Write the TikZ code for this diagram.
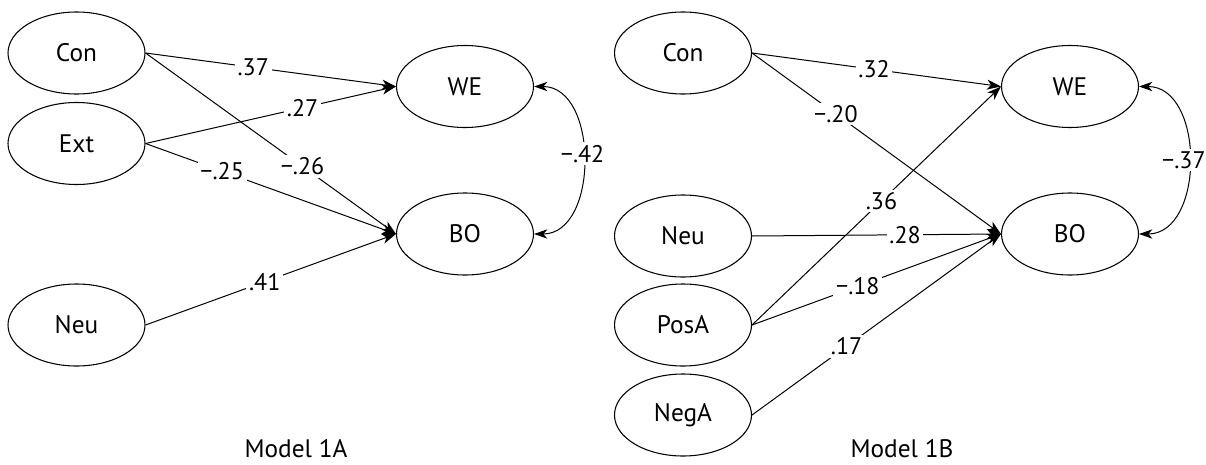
\documentclass[tikz,border=0pt]{standalone}
\usepackage{fontspec}
\setmainfont{PT Sans}
\usetikzlibrary{arrows.meta,shapes.geometric}
\begin{document}
\begin{tikzpicture}[x=0.75pt,y=-0.75pt,
  var/.style={draw,ellipse,line width=0.8pt,minimum width=102.75pt,minimum height=61.5pt,inner sep=0pt,font=\fontsize{19}{21}\selectfont},
  regarrow/.style={line width=0.75pt,-{Stealth[length=10.5pt,width=7.5pt,inset=3pt]}},
  covarrow/.style={line width=0.75pt,{Stealth[length=10pt,width=7pt,inset=3pt]}-{Stealth[length=10pt,width=7pt,inset=3pt]}},
  lbl/.style={fill=white,inner sep=2pt,font=\fontsize{18}{20}\selectfont},
  modelcap/.style={anchor=base,inner sep=0pt,font=\fontsize{19}{21}\selectfont}]
\useasboundingbox (0,0) rectangle (1206,464);
% Model 1A
\node[var] (con) at (76.5,53) {Con};
\node[var] (ext) at (76.5,143.5) {Ext};
\node[var] (neu) at (76.5,325) {Neu};
\node[var] (we) at (465,86.5) {WE};
\node[var] (bo) at (465,234) {BO};
\draw[regarrow] (con.east) -- (bo.west) node[lbl,pos=0.627] {−.26};
\draw[regarrow] (ext.east) -- (we.west) node[lbl,pos=0.627] {.27};
\draw[regarrow] (con.east) -- (we.west) node[lbl,pos=0.43] {.37};
\draw[regarrow] (ext.east) -- (bo.west) node[lbl,pos=0.306] {−.25};
\draw[regarrow] (neu.east) -- (bo.west) node[lbl,pos=0.476] {.41};
\draw[covarrow] (we.east) .. controls +(65,0) and +(65,0) .. (bo.east) node[lbl,pos=0.47,inner xsep=0.5pt] {−.42};
\node[modelcap] (m1a) at (296,457) {Model 1A};
% Model 1B
\node[var] (conb) at (683,53) {Con};
\node[var] (neub) at (683,236) {Neu};
\node[var] (posa) at (683,325) {PosA};
\node[var] (nega) at (683,415) {NegA};
\node[var] (web) at (1070,86.5) {WE};
\node[var] (bob) at (1070,234) {BO};
\draw[regarrow] (posa.east) -- (web.west) node[lbl,pos=0.52] {.36};
\draw[regarrow] (conb.east) -- (bob.west) node[lbl,pos=0.337] {−.20};
\draw[regarrow] (conb.east) -- (web.west) node[lbl,pos=0.49] {.32};
\draw[regarrow] (neub.east) -- (bob.west) node[lbl,pos=0.615] {.28};
\draw[regarrow] (posa.east) -- (bob.west) node[lbl,pos=0.425] {−.18};
\draw[regarrow] (nega.east) -- (bob.west) node[lbl,pos=0.38] {.17};
\draw[covarrow] (web.east) .. controls +(66,0) and +(66,0) .. (bob.east) node[lbl,pos=0.5,inner xsep=0pt,xshift=-3.5pt] {−.37};
\node[modelcap] (m1b) at (902,457) {Model 1B};
\end{tikzpicture}
\end{document}
